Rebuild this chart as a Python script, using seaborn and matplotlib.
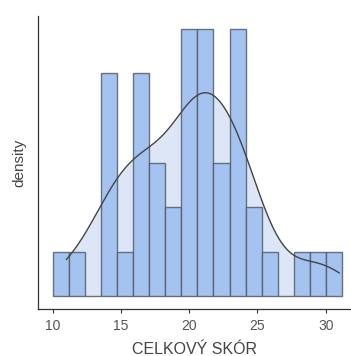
import numpy as np
import pandas as pd
import matplotlib
matplotlib.use("Agg")
import matplotlib.pyplot as plt
import seaborn as sns

# Histogram bins (edges) and counts
bin_edges = [10.0, 11.178, 12.356, 13.533, 14.711, 15.889, 17.067, 18.244, 19.422,
             20.6, 21.778, 22.956, 24.133, 25.311, 26.489, 27.667, 28.844, 30.022, 31.2]
counts = [1, 1, 0, 5, 1, 5, 3, 2, 6, 6, 3, 6, 2, 1, 0, 1, 1, 1]
x_ticks = [10, 15, 20, 25, 30]
x_label = "CELKOVÝ SKÓR"
y_label = "density"

edges = np.array(bin_edges)
mids = (edges[:-1] + edges[1:]) / 2
df = pd.DataFrame({"score": np.repeat(mids, counts)})

sns.set_theme(style="ticks")
plt.rcParams["font.family"] = ["Liberation Sans", "DejaVu Sans"]

fig = plt.figure(figsize=(3.51, 3.56), dpi=100)
ax = fig.add_axes([0.108, 0.132, 0.892, 0.823])

bar_color = "#a5c3f0"
kde_fill = "#dde6f7"

# KDE line scaled to counts (from histplot), drawn in a hidden pass to get the curve
sns.histplot(data=df, x="score", bins=edges, kde=True, ax=ax,
             kde_kws={"cut": 1, "clip": (11, 31), "bw_adjust": 0.88})
line = ax.lines[0]
kx, ky = line.get_xdata(), line.get_ydata()
ax.cla()

ax.fill_between(kx, 0, ky, color=kde_fill, lw=0, zorder=1)
sns.histplot(data=df, x="score", bins=edges, ax=ax, color=bar_color, alpha=1,
             linewidth=1.0, zorder=2)
for p in ax.patches:
    p.set_zorder(2)
    p.set_edgecolor((0.33, 0.36, 0.42, 0.85))
ax.plot(kx, ky, color="#444444", lw=1.0, zorder=3)

ax.set_xlim(8.92, 31.85)
ax.set_ylim(-0.29, 6.29)
ax.set_xticks(x_ticks)
ax.set_yticks([])
ax.set_xlabel(x_label, fontsize=11.5, color="#444444", labelpad=7)
ax.set_ylabel(y_label, fontsize=11, color="#444444", labelpad=8)
ax.tick_params(axis="x", labelsize=10, colors="#333333", labelcolor="#555555",
               length=3, width=0.8, pad=4)
sns.despine(ax=ax)
for s in ["left", "bottom"]:
    ax.spines[s].set_color("#333333")
    ax.spines[s].set_linewidth(0.9)

fig.savefig("out.png", dpi=100)
